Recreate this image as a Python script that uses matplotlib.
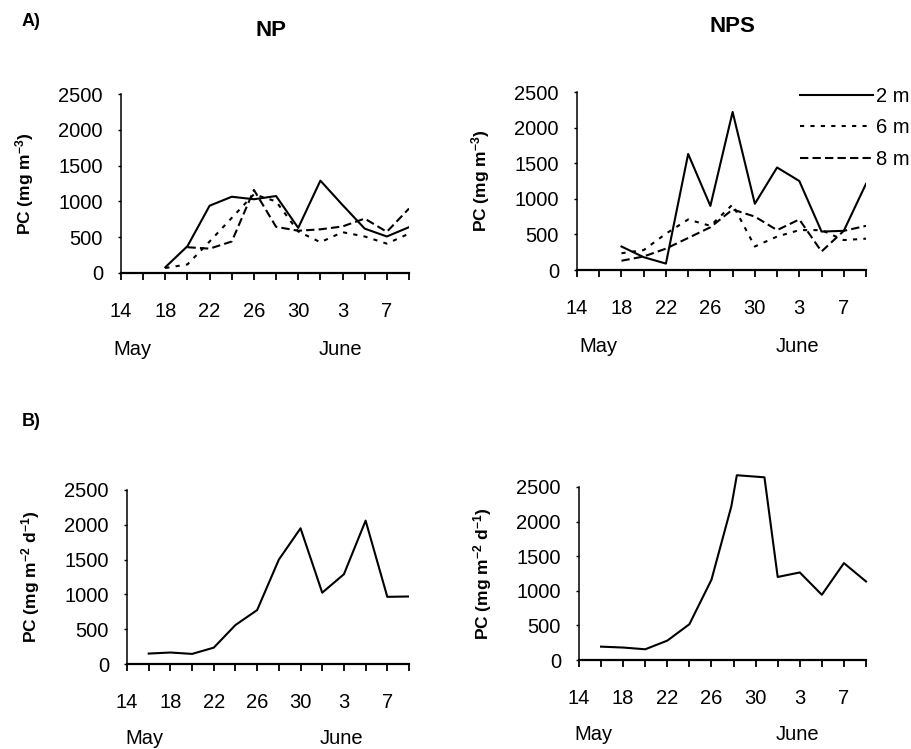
import matplotlib.pyplot as plt

plt.rcParams['font.family'] = ['Liberation Sans', 'DejaVu Sans']
plt.rcParams['mathtext.default'] = 'regular'

# x axis: days counted from 14 May
tick_days = [0, 4, 8, 12, 16, 20, 24]
tick_labels = ['14', '18', '22', '26', '30', '3', '7']
all_ticks = list(range(0, 27, 2))
y_ticks = [0, 500, 1000, 1500, 2000, 2500]

# A) PC concentration, NP enclosure
np_days = [4, 6, 8, 10, 12, 14, 16, 18, 20, 22, 24, 26]
np_2m = [80, 375, 940, 1065, 1030, 1075, 630, 1290, 950, 620, 510, 640]
np_6m = [70, 120, 440, 770, 1100, 1000, 580, 430, 570, 510, 410, 550]
np_8m_days = [6, 8, 10, 12, 14, 16, 18, 20, 22, 24, 26]
np_8m = [360, 340, 440, 1160, 645, 590, 610, 650, 760, 575, 900]

# A) PC concentration, NPS enclosure
nps_days = [4, 6, 8, 10, 12, 14, 16, 18, 20, 22, 24, 26]
nps_2m = [330, 180, 90, 1630, 900, 2220, 930, 1440, 1250, 540, 550, 1210]
nps_6m = [235, 280, 510, 710, 620, 920, 330, 470, 560, 560, 420, 440]
nps_8m = [130, 190, 300, 450, 600, 850, 750, 560, 710, 260, 550, 620]

# B) PC sedimentation
npb_days = [2, 4, 6, 8, 10, 12, 14, 16, 18, 20, 22, 24, 26]
npb_flux = [150, 165, 145, 235, 560, 775, 1500, 1950, 1025, 1290, 2060, 965, 970]
npsb_days = [2, 4, 6, 8, 10, 12, 13.8, 14.3, 16.8, 18, 20, 22, 24, 26]
npsb_flux = [193, 180, 155, 280, 517, 1160, 2220, 2670, 2640, 1200, 1265, 942, 1400, 1135]

W, H = 911, 749
fig = plt.figure(figsize=(W / 100, H / 100), dpi=100)
fs = 14.5

#axes boxes in pixels: left, top(2500), right, bottom(0)
def make_axes(l, t, r, b):
    return fig.add_axes([l / W, 1 - b / H, (r - l) / W, (b - t) / H])

def style(ax, ylabel, may_x):
    ax.set_xlim(0, 26)
    ax.set_ylim(0, 2500)
    ax.set_yticks(y_ticks)
    ax.set_xticks(tick_days)
    ax.set_xticklabels(tick_labels)
    ax.set_xticks(all_ticks, minor=True)
    ax.spines['top'].set_visible(False)
    ax.spines['right'].set_visible(False)
    ax.spines['bottom'].set_linewidth(1.6)
    ax.spines['left'].set_linewidth(1.1)
    ax.tick_params(axis='x', which='both', direction='out', length=5, width=1.3, pad=16, labelsize=fs)
    ax.tick_params(axis='y', length=2, width=1, pad=11, labelsize=fs)
    ax.set_ylabel(ylabel, fontsize=12.5, fontweight='bold', va='center')
    wpx = ax.get_position().width * W
    ax.yaxis.set_label_coords(-96 / wpx, 0.5)
    ax.text(may_x, -0.43, 'May', transform=ax.get_xaxis_transform(), ha='center', va='center', fontsize=fs)
    ax.text(19.8, -0.43, 'June', transform=ax.get_xaxis_transform(), ha='center', va='center', fontsize=fs)

lw = 1.5
conc_label = 'PC (mg m$^{-3}$)'
flux_label = 'PC (mg m$^{-2}$ d$^{-1}$)'

ax1 = make_axes(121, 94, 409, 273)
ax1.plot(np_days, np_2m, color='black', lw=lw)
ax1.plot(np_days, np_6m, color='black', lw=lw, dashes=(2, 3))
ax1.plot(np_8m_days, np_8m, color='black', lw=lw, dashes=(4, 2))
style(ax1, conc_label, 1.0)

ax2 = make_axes(577, 92, 866, 270)
ax2.plot(nps_days, nps_2m, color='black', lw=lw, label='2 m')
ax2.plot(nps_days, nps_6m, color='black', lw=lw, dashes=(2, 3), label='6 m')
ax2.plot(nps_days, nps_8m, color='black', lw=lw, dashes=(4, 2), label='8 m')
style(ax2, conc_label, 1.9)
ax2.legend(loc='upper left', bbox_to_anchor=(800 / W, 1 - 87 / H), bbox_transform=fig.transFigure,
           frameon=False, fontsize=fs, handlelength=3.6, handletextpad=0.15,
           labelspacing=0.62, borderpad=0, borderaxespad=0)

ax3 = make_axes(127, 490, 409, 664)
ax3.plot(npb_days, npb_flux, color='black', lw=lw)
style(ax3, flux_label, 1.6)

ax4 = make_axes(579, 487, 866, 660)
ax4.plot(npsb_days, npsb_flux, color='black', lw=lw, clip_on=False)
style(ax4, flux_label, 1.3)

# panel letters and titles
title_font = ['Liberation Sans Narrow', 'Liberation Sans']
fig.text(22 / W, 1 - 21 / H, 'A)', fontsize=13, fontweight='bold', family=title_font, va='center')
fig.text(22 / W, 1 - 421 / H, 'B)', fontsize=13, fontweight='bold', family=title_font, va='center')
fig.text(271 / W, 1 - 31 / H, 'NP', fontsize=16, fontweight='bold', family=title_font, ha='center', va='center')
fig.text(732 / W, 1 - 27 / H, 'NPS', fontsize=16, fontweight='bold', family=title_font, ha='center', va='center')

fig.savefig('out.png', dpi=100)
